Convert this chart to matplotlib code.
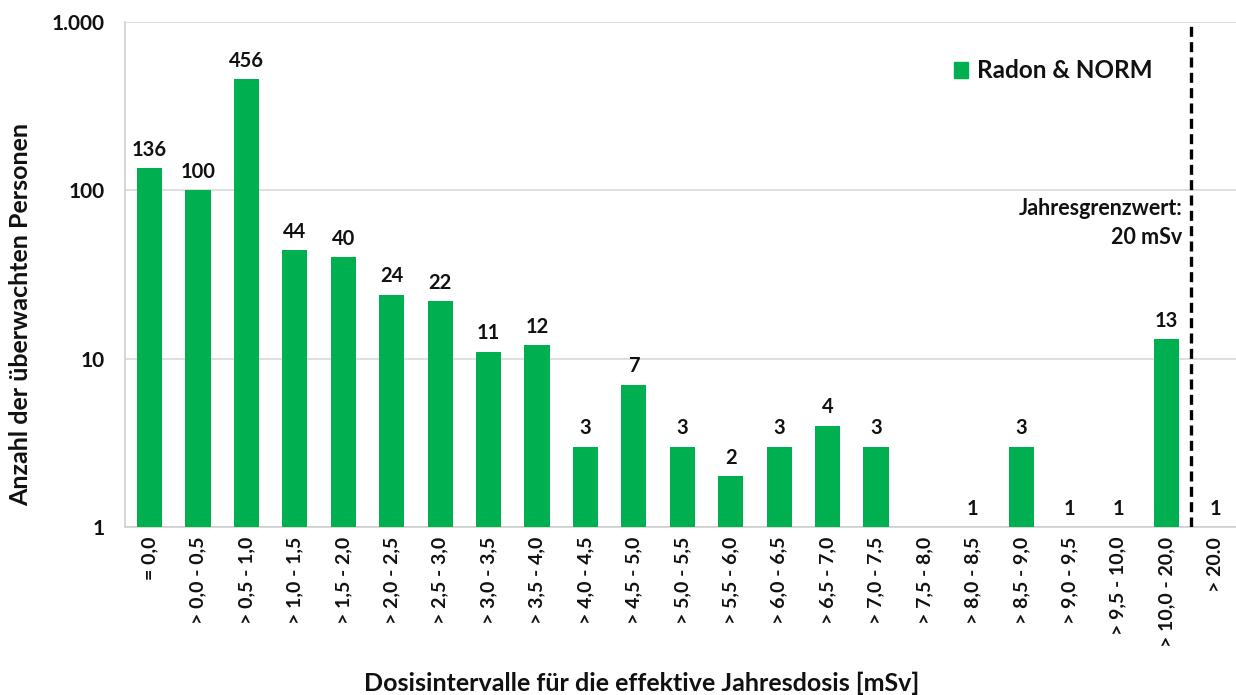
import matplotlib
matplotlib.use("Agg")
import matplotlib.pyplot as plt
from matplotlib.ticker import FixedLocator, FixedFormatter, NullLocator
from matplotlib.patches import Patch

categories = ["= 0,0", "> 0,0 - 0,5", "> 0,5 - 1,0", "> 1,0 - 1,5", "> 1,5 - 2,0",
              "> 2,0 - 2,5", "> 2,5 - 3,0", "> 3,0 - 3,5", "> 3,5 - 4,0", "> 4,0 - 4,5",
              "> 4,5 - 5,0", "> 5,0 - 5,5", "> 5,5 - 6,0", "> 6,0 - 6,5", "> 6,5 - 7,0",
              "> 7,0 - 7,5", "> 7,5 - 8,0", "> 8,0 - 8,5", "> 8,5 - 9,0", "> 9,0 - 9,5",
              "> 9,5 - 10,0", "> 10,0 - 20,0", "> 20.0"]
values = [136, 100, 456, 44, 40, 24, 22, 11, 12, 3, 7, 3, 2, 3, 4, 3, 0, 1, 3, 1, 1, 13, 1]
ytick_values = [1, 10, 100, 1000]
ytick_labels = ["1", "10", "100", "1.000"]

green = "#00B050"
txt = "#111111"
plt.rcParams['font.family'] = ['Lato', 'DejaVu Sans']
plt.rcParams['font.weight'] = 'bold'

fig = plt.figure(figsize=(12.36, 6.95), dpi=100)
ax = fig.add_axes([125.3 / 1236, 1 - 527 / 695, 1114 / 1236, 505 / 695])

x = list(range(len(categories)))
heights = [v - 1 if v > 0 else 0 for v in values]
ax.bar(x, heights, bottom=1, width=0.52, color=green, zorder=3)
ax.set_yscale('log')
ax.set_ylim(1, 1000)
ax.set_xlim(-0.5, len(categories) - 0.5)

for i, v in enumerate(values):
    if v > 0:
        ax.annotate(str(v), (i, v), xytext=(0, 6), textcoords='offset points',
                    ha='center', va='bottom', fontsize=14.5, fontweight='bold', color=txt)

ax.yaxis.set_major_locator(FixedLocator(ytick_values))
ax.yaxis.set_major_formatter(FixedFormatter(ytick_labels))
ax.yaxis.set_minor_locator(NullLocator())
ax.set_xticks(x)
ax.set_xticklabels(categories, rotation=90, va='top', ha='center', fontsize=14, fontweight='bold')
ax.tick_params(axis='both', length=0, labelcolor=txt)
ax.tick_params(axis='x', pad=7)
ax.tick_params(axis='y', labelsize=15, pad=15)

ax.grid(axis='y', color='#d9d9d9', linewidth=1.2, zorder=0)
for s in ['top', 'right']:
    ax.spines[s].set_visible(False)
for s in ['left', 'bottom']:
    ax.spines[s].set_color('#d0d0d0')
    ax.spines[s].set_linewidth(1.2)

ax.axvline(21.5, color='black', linestyle=(0, (3, 1.6)), linewidth=2.4, zorder=4)
ax.text(21.33, 0.602, "Jahresgrenzwert:\n20 mSv", transform=ax.get_xaxis_transform(),
        ha='right', va='center', fontsize=15.5, fontweight='bold', linespacing=1.45, color=txt)

ax.set_ylabel("Anzahl der überwachten Personen", fontsize=18, fontweight='bold', color=txt)
ax.yaxis.set_label_coords(-0.094, 0.42)
ax.yaxis.label.set_va('center')
ax.set_xlabel("Dosisintervalle für die effektive Jahresdosis [mSv]", fontsize=18, fontweight='bold', color=txt)
ax.xaxis.set_label_coords((642 - 125.3) / 1114, (527 - 683) / 505)
ax.xaxis.label.set_va('center')

leg = ax.legend(handles=[Patch(color=green, label="Radon & NORM")], loc='upper left',
                bbox_to_anchor=(0.735, 0.945), frameon=False, fontsize=17.5,
                handlelength=0.6, handleheight=0.6, handletextpad=0.35, borderaxespad=0)
for t in leg.get_texts():
    t.set_fontweight('bold')
    t.set_color(txt)

fig.savefig("out.png", dpi=100)
